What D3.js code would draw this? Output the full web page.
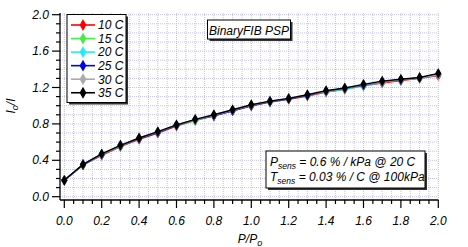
<!DOCTYPE html>
<html><head><meta charset="utf-8">
<script src="https://cdn.jsdelivr.net/npm/d3@7"></script>
<style>
html,body{margin:0;padding:0;background:#fff;}
svg{display:block;font-family:"Liberation Sans",Arial,sans-serif;font-style:italic;}
</style></head>
<body><svg id="c" width="468" height="247"></svg>
<script>
const pressure = [0.0,0.1,0.2,0.3,0.4,0.5,0.6,0.7,0.8,0.9,1.0,1.1,1.2,1.3,1.4,1.5,1.6,1.7,1.8,1.9,2.0];
const seriesNames = ["10 C","15 C","20 C","25 C","30 C","35 C"];
const seriesColors = ["#ff0000","#44ee44","#22eeee","#0000ee","#aaaaaa","#000000"];
const s10 = [0.18,0.35,0.455,0.55,0.63,0.70,0.775,0.84,0.89,0.945,1.00,1.04,1.07,1.105,1.15,1.18,1.22,1.25,1.275,1.30,1.33];
const s15 = [0.18,0.35,0.465,0.555,0.64,0.71,0.785,0.835,0.895,0.95,1.005,1.045,1.075,1.115,1.16,1.19,1.23,1.26,1.285,1.305,1.345];
const s20 = [0.18,0.35,0.465,0.56,0.64,0.71,0.785,0.845,0.895,0.95,1.005,1.045,1.08,1.115,1.155,1.18,1.215,1.26,1.285,1.305,1.345];
const s25 = [0.18,0.35,0.465,0.56,0.64,0.705,0.785,0.845,0.89,0.945,1.00,1.045,1.075,1.115,1.16,1.19,1.225,1.265,1.285,1.305,1.345];
const s30 = [0.18,0.355,0.465,0.56,0.645,0.71,0.79,0.845,0.895,0.95,1.005,1.05,1.08,1.12,1.16,1.19,1.23,1.265,1.285,1.305,1.34];
const s35 = [0.18,0.355,0.47,0.565,0.645,0.715,0.79,0.85,0.90,0.955,1.01,1.05,1.08,1.12,1.165,1.195,1.235,1.27,1.29,1.31,1.355];
const seriesValues = [s10,s15,s20,s25,s30,s35];
const xTickLabels = [0.0,0.2,0.4,0.6,0.8,1.0,1.2,1.4,1.6,1.8,2.0];
const yTickLabels = [0.0,0.4,0.8,1.2,1.6,2.0];

const svg = d3.select("#c");
const x = d3.scaleLinear().domain([0,2]).range([64.3,438.3]);
const y = d3.scaleLinear().domain([0,2]).range([196.7,14.7]);
const pL = 60, pR = 438.3, pT = 13, pB = 200;

// grid
const g = svg.append("g");
const xg = d3.range(0, 41).map(i=>i*0.05);
const yg = d3.range(0, 21).map(i=>i*0.1);
g.selectAll("line.vx").data(xg).join("line")
  .attr("x1", d=>x(d)).attr("x2", d=>x(d)).attr("y1", pT).attr("y2", pB)
  .attr("stroke", "#c0c0ee").attr("stroke-width", 1).attr("stroke-dasharray", "1,1");
g.selectAll("line.hy").data(yg).join("line")
  .attr("y1", d=>y(d)).attr("y2", d=>y(d)).attr("x1", pL).attr("x2", pR)
  .attr("stroke", "#c0c0ee").attr("stroke-width", 1).attr("stroke-dasharray", "1,1");

// axes lines
svg.append("line").attr("x1", pL).attr("x2", pL).attr("y1", pT).attr("y2", pB).attr("stroke","#000").attr("stroke-width",1.3);
svg.append("line").attr("x1", pL).attr("x2", pR).attr("y1", pB).attr("y2", pB).attr("stroke","#000").attr("stroke-width",1.3);

// x ticks
const xt = d3.range(0, 41).map(i=>i*0.05);
svg.selectAll("line.xt").data(xt).join("line")
  .attr("x1", d=>x(d)).attr("x2", d=>x(d)).attr("y1", pB)
  .attr("y2", (d,i)=> i%4===0 ? pB+8 : pB+4)
  .attr("stroke","#000").attr("stroke-width",1.2);
svg.selectAll("text.xl").data(xTickLabels).join("text")
  .attr("x", d=>x(d)).attr("y", 224.5).attr("text-anchor","middle")
  .attr("font-size", 12).text(d=>d.toFixed(1));

// y ticks
const yt = d3.range(0, 21).map(i=>i*0.1);
svg.selectAll("line.yt").data(yt).join("line")
  .attr("y1", d=>y(d)).attr("y2", d=>y(d)).attr("x1", pL)
  .attr("x2", (d,i)=> i%4===0 ? pL-8 : pL-4)
  .attr("stroke","#000").attr("stroke-width",1.2);
svg.selectAll("text.yl").data(yTickLabels).join("text")
  .attr("x", 49).attr("y", d=>y(d)+4).attr("text-anchor","end")
  .attr("font-size", 12).text(d=>d.toFixed(1));

// axis titles
const xt2 = svg.append("text").attr("x", 250).attr("y", 243).attr("text-anchor","middle").attr("font-size",12);
xt2.append("tspan").text("P/P");
xt2.append("tspan").attr("font-size",9).attr("dy",3).text("o");
const yt2 = svg.append("text").attr("transform","translate(15,106) rotate(-90)").attr("text-anchor","middle").attr("font-size",12);
yt2.append("tspan").text("I");
yt2.append("tspan").attr("font-size",9).attr("dy",3).text("o");
yt2.append("tspan").attr("dy",-3).text("/I");

// series
const line = d3.line().x((d,i)=>x(pressure[i])).y(d=>y(d));
const diamond = d3.symbol().type(d3.symbolDiamond).size(34);
seriesValues.forEach((vals, k) => {
  const sg = svg.append("g");
  sg.append("path").datum(vals).attr("d", line).attr("fill","none")
    .attr("stroke", seriesColors[k]).attr("stroke-width", 1.4);
  sg.selectAll("path.m").data(vals).join("path")
    .attr("d", diamond)
    .attr("transform", (d,i)=>`translate(${x(pressure[i])},${y(d)})`)
    .attr("fill", seriesColors[k]);
});

// legend
const lg = svg.append("g");
lg.append("rect").attr("x",69).attr("y",16.5).attr("width",59).attr("height",88).attr("fill","#333");
lg.append("rect").attr("x",67).attr("y",14.5).attr("width",59).attr("height",88).attr("fill","#fff").attr("stroke","#000").attr("stroke-width",1);
seriesNames.forEach((n,k)=>{
  const yy = 25 + k*13.55;
  lg.append("line").attr("x1",71).attr("x2",95).attr("y1",yy).attr("y2",yy).attr("stroke",seriesColors[k]).attr("stroke-width",1.6);
  lg.append("path").attr("d", d3.symbol().type(d3.symbolDiamond).size(40)).attr("transform",`translate(83,${yy})`).attr("fill",seriesColors[k]);
  lg.append("text").attr("x",98).attr("y",yy+4.3).attr("font-size",12).text(n);
});

// title box
const tb = svg.append("g");
tb.append("rect").attr("x",209.5).attr("y",22).attr("width",83).attr("height",19).attr("fill","#333");
tb.append("rect").attr("x",207.5).attr("y",20).attr("width",83).attr("height",19).attr("fill","#fff").attr("stroke","#000");
tb.append("text").attr("x",249).attr("y",34.5).attr("text-anchor","middle").attr("font-size",12).text("BinaryFIB PSP");

// sensitivity box
const sb = svg.append("g");
sb.append("rect").attr("x",268).attr("y",153).attr("width",159).attr("height",37).attr("fill","#333");
sb.append("rect").attr("x",266).attr("y",151).attr("width",159).attr("height",37).attr("fill","#fff").attr("stroke","#000");
const t1 = sb.append("text").attr("x",270).attr("y",166).attr("font-size",12);
t1.append("tspan").text("P");
t1.append("tspan").attr("font-size",8.5).attr("dy",3).text("sens");
t1.append("tspan").attr("dy",-3).text(" = 0.6 % / kPa @ 20 C");
const t2 = sb.append("text").attr("x",270).attr("y",181).attr("font-size",12);
t2.append("tspan").text("T");
t2.append("tspan").attr("font-size",8.5).attr("dy",3).text("sens");
t2.append("tspan").attr("dy",-3).text(" = 0.03 % / C @ 100kPa");
</script>
</body></html>
